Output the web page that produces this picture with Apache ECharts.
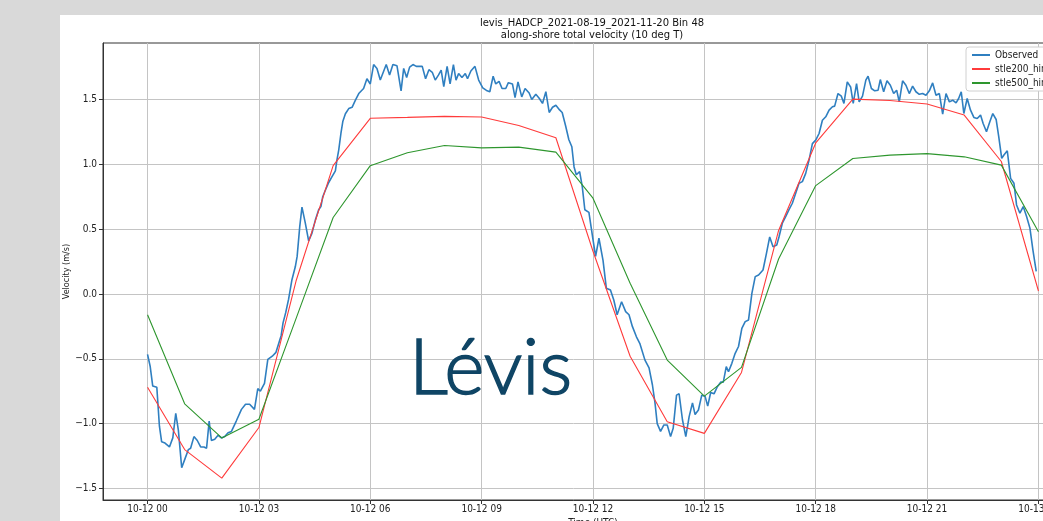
<!DOCTYPE html>
<html>
<head>
<meta charset="utf-8">
<script src="https://cdn.jsdelivr.net/npm/echarts@6/dist/echarts.min.js"></script>
<style>
html,body{margin:0;padding:0;background:#d9d9d9;}
#c{width:1043px;height:521px;}
</style>
</head>
<body>
<div id="c"></div>
<script>
// ---------- data ----------
const titleLines = ['levis_HADCP_2021-08-19_2021-11-20 Bin 48', 'along-shore total velocity (10 deg T)'];
const seriesNames = ['Observed', 'stle200_hindcast', 'stle500_hindcast'];
const hourTicks = [0, 3, 6, 9, 12, 15, 18, 21, 24];
const tickLabels = ['10-12 00', '10-12 03', '10-12 06', '10-12 09', '10-12 12', '10-12 15', '10-12 18', '10-12 21', '10-13 00'];
const yTicks = [-1.5, -1.0, -0.5, 0.0, 0.5, 1.0, 1.5];
const yTickLabels = ['\u22121.5', '\u22121.0', '\u22120.5', '0.0', '0.5', '1.0', '1.5'];

// model output, hourly (hours since 10-12 00 UTC)
const modelHours = [0,1,2,3,4,5,6,7,8,9,10,11,12,13,14,15,16,17,18,19,20,21,22,23,24];
const stle200 = [-0.72,-1.20,-1.42,-1.03,0.10,0.99,1.355,1.362,1.37,1.365,1.30,1.205,0.33,-0.48,-0.985,-1.075,-0.605,0.49,1.165,1.503,1.493,1.465,1.38,1.022,0.023];
const stle500 = [-0.16,-0.847,-1.11,-0.966,-0.19,0.59,0.99,1.09,1.145,1.127,1.133,1.094,0.739,0.083,-0.51,-0.788,-0.566,0.27,0.836,1.045,1.071,1.083,1.058,0.994,0.48];

// observed (hours since 10-12 00 UTC, m/s)
const obsHours = [
0,0.07,0.14,0.25,0.32,0.38,0.47,0.59,0.68,0.76,0.83,0.92,1.01,1.10,1.16,1.25,1.34,1.43,1.52,1.59,
1.66,1.72,1.81,1.90,1.99,2.08,2.17,2.26,2.39,2.53,2.64,2.75,2.88,2.97,3.04,3.15,3.24,3.36,3.46,3.60,
3.65,3.72,3.80,3.89,3.98,4.03,4.10,4.16,4.25,4.34,4.43,4.52,4.61,4.67,4.72,4.79,4.88,4.97,5.06,5.10,
5.15,5.21,5.26,5.33,5.42,5.51,5.60,5.69,5.82,5.91,6.00,6.09,6.18,6.27,6.43,6.52,6.61,6.72,6.83,6.90,
6.98,7.06,7.15,7.24,7.32,7.40,7.49,7.58,7.67,7.75,7.84,7.91,7.98,8.07,8.15,8.24,8.31,8.38,8.47,8.56,
8.62,8.71,8.82,8.92,9.03,9.13,9.22,9.31,9.38,9.47,9.55,9.65,9.72,9.83,9.90,9.98,10.08,10.17,10.28,10.35,
10.46,10.55,10.64,10.73,10.82,10.91,11.00,11.10,11.17,11.26,11.35,11.43,11.49,11.55,11.64,11.71,11.78,11.89,12.00,12.07,
12.16,12.27,12.36,12.47,12.56,12.65,12.77,12.88,12.97,13.06,13.17,13.26,13.40,13.51,13.60,13.67,13.73,13.82,13.91,14.00,
14.09,14.16,14.25,14.32,14.41,14.50,14.59,14.68,14.75,14.84,14.93,15.02,15.09,15.17,15.26,15.35,15.44,15.51,15.59,15.65,
15.74,15.83,15.92,16.01,16.10,16.19,16.28,16.37,16.46,16.58,16.67,16.76,16.85,16.95,17.01,17.10,17.19,17.28,17.37,17.46,
17.55,17.64,17.73,17.82,17.91,18.00,18.09,18.18,18.27,18.36,18.45,18.51,18.60,18.69,18.76,18.85,18.94,19.01,19.10,19.17,
19.26,19.35,19.41,19.50,19.59,19.68,19.74,19.83,19.92,20.01,20.10,20.18,20.25,20.34,20.43,20.52,20.61,20.70,20.79,20.88,
20.97,21.06,21.15,21.24,21.33,21.42,21.51,21.60,21.69,21.78,21.85,21.92,21.99,22.08,22.17,22.26,22.35,22.44,22.51,22.60,
22.69,22.77,22.86,22.93,23.01,23.07,23.16,23.25,23.34,23.41,23.50,23.59,23.68,23.77,23.85,23.94
];
const obsVelocity = [
-0.466,-0.557,-0.71,-0.72,-1.02,-1.14,-1.15,-1.18,-1.11,-0.92,-1.05,-1.34,-1.27,-1.20,-1.19,-1.10,-1.13,-1.18,-1.18,-1.19,
-0.98,-1.13,-1.12,-1.09,-1.11,-1.10,-1.07,-1.06,-0.98,-0.89,-0.85,-0.85,-0.89,-0.73,-0.75,-0.69,-0.505,-0.48,-0.45,-0.32,
-0.223,-0.146,-0.04,0.11,0.21,0.29,0.52,0.67,0.546,0.41,0.47,0.57,0.65,0.674,0.75,0.80,0.86,0.905,0.95,1.03,
1.11,1.24,1.33,1.39,1.43,1.44,1.495,1.546,1.585,1.66,1.62,1.77,1.74,1.65,1.77,1.69,1.77,1.76,1.567,1.74,
1.67,1.75,1.77,1.756,1.756,1.756,1.66,1.73,1.71,1.65,1.69,1.726,1.60,1.756,1.62,1.77,1.65,1.70,1.67,1.70,
1.66,1.72,1.756,1.65,1.59,1.57,1.56,1.68,1.62,1.64,1.585,1.585,1.63,1.62,1.515,1.636,1.52,1.585,1.55,1.50,
1.54,1.51,1.47,1.56,1.40,1.44,1.456,1.42,1.40,1.30,1.19,1.136,0.98,0.92,0.944,0.83,0.65,0.63,0.42,0.29,
0.43,0.26,0.044,0.03,-0.046,-0.16,-0.06,-0.136,-0.16,-0.25,-0.33,-0.38,-0.51,-0.57,-0.70,-0.84,-1.0,-1.06,-1.01,-1.01,
-1.10,-1.036,-0.78,-0.77,-0.97,-1.10,-0.946,-0.84,-0.93,-0.895,-0.78,-0.79,-0.865,-0.76,-0.77,-0.715,-0.68,-0.68,-0.56,-0.60,
-0.535,-0.458,-0.405,-0.265,-0.213,-0.20,0.005,0.134,0.147,0.185,0.31,0.44,0.365,0.378,0.44,0.546,0.597,0.65,0.70,0.777,
0.854,0.867,0.93,1.033,1.16,1.187,1.238,1.34,1.367,1.418,1.444,1.449,1.546,1.526,1.47,1.636,1.597,1.47,1.623,1.482,
1.526,1.649,1.68,1.585,1.567,1.572,1.654,1.56,1.644,1.61,1.546,1.572,1.482,1.644,1.61,1.546,1.603,1.56,1.54,1.546,
1.533,1.567,1.628,1.533,1.546,1.387,1.546,1.482,1.495,1.474,1.508,1.56,1.392,1.508,1.418,1.362,1.354,1.38,1.315,1.251,
1.328,1.392,1.346,1.213,1.046,1.072,1.105,0.892,0.854,0.687,0.623,0.674,0.597,0.508,0.341,0.174
];

// ---------- chart ----------
const FONT = "'DejaVu Sans Condensed', 'DejaVu Sans', sans-serif";
const chart = echarts.init(document.getElementById('c'), null, {renderer: 'canvas', width: 1043, height: 521});

const pairs = (xs, ys) => xs.map((x, i) => [x, ys[i]]);

chart.setOption({
  backgroundColor: '#d9d9d9',
  animation: false,
  title: {
    text: titleLines.join('\n'),
    left: 592, top: 18, padding: 0, textAlign: 'center',
    textStyle: {fontSize: 10, fontWeight: 'normal', color: '#111', lineHeight: 11.5, fontFamily: "'DejaVu Sans', sans-serif"}
  },
  graphic: [
    {type: 'rect', z: -100, silent: true, shape: {x: 60, y: 15, width: 983, height: 506}, style: {fill: '#ffffff'}},
    {type: 'text', z: 100, silent: true, style: {text: 'Lévis', x: 409, y: 369, fontSize: 77, fontFamily: 'Lato, sans-serif', fontWeight: 300, fill: '#0f4565', stroke: '#0f4565', lineWidth: 1.5, verticalAlign: 'middle'}}
  ],
  legend: {
    orient: 'vertical', left: 966, top: 47,
    padding: [3, 6, 3, 6], itemGap: 4, itemWidth: 18, itemHeight: 2, icon: 'rect',
    backgroundColor: '#ffffff', borderColor: '#d0d0d0', borderWidth: 1, borderRadius: 3,
    textStyle: {fontSize: 10, color: '#222', fontFamily: FONT, lineHeight: 10},
    data: seriesNames
  },
  grid: {left: 103, top: 43, width: 980, height: 457, show: true, borderColor: '#333', borderWidth: 1, backgroundColor: 'transparent', containLabel: false, outerBoundsMode: 'none'},
  xAxis: {
    type: 'value', min: -1.2, max: 25.2,
    name: 'Time (UTC)', nameLocation: 'middle', nameGap: 18, nameMoveOverlap: false,
    nameTextStyle: {fontSize: 10, color: '#222', fontFamily: FONT},
    axisLine: {show: true, onZero: false, lineStyle: {color: '#333', width: 1}},
    axisTick: {show: true, customValues: hourTicks, length: 4, lineStyle: {color: '#333'}},
    axisLabel: {customValues: hourTicks, formatter: v => tickLabels[hourTicks.indexOf(v)], fontSize: 10, color: '#222', margin: 4, fontFamily: FONT},
    splitLine: {show: true, lineStyle: {color: '#c4c4c4', width: 1}}
  },
  yAxis: {
    type: 'value', min: -1.589, max: 1.936,
    name: 'Velocity (m/s)', nameLocation: 'middle', nameGap: 32, nameMoveOverlap: false,
    nameTextStyle: {fontSize: 9, color: '#222', fontFamily: FONT},
    axisLine: {show: true, onZero: false, lineStyle: {color: '#333', width: 1}},
    axisTick: {show: true, customValues: yTicks, length: 4, lineStyle: {color: '#333'}},
    axisLabel: {customValues: yTicks, formatter: v => yTickLabels[yTicks.indexOf(v)], fontSize: 10, color: '#222', margin: 6, fontFamily: FONT},
    splitLine: {show: true, lineStyle: {color: '#c4c4c4', width: 1}}
  },
  series: [
    {type: 'line', name: seriesNames[0], data: pairs(obsHours, obsVelocity), symbol: 'none', z: 3,
     lineStyle: {color: '#2f7fc0', width: 1.6}, itemStyle: {color: '#2f7fc0'}},
    {type: 'line', name: seriesNames[1], data: pairs(modelHours, stle200), symbol: 'none', z: 4,
     lineStyle: {color: '#ff3b3b', width: 1.1}, itemStyle: {color: '#ff3b3b'}},
    {type: 'line', name: seriesNames[2], data: pairs(modelHours, stle500), symbol: 'none', z: 5,
     lineStyle: {color: '#2e962e', width: 1.1}, itemStyle: {color: '#2e962e'}}
  ]
});
</script>
</body>
</html>
